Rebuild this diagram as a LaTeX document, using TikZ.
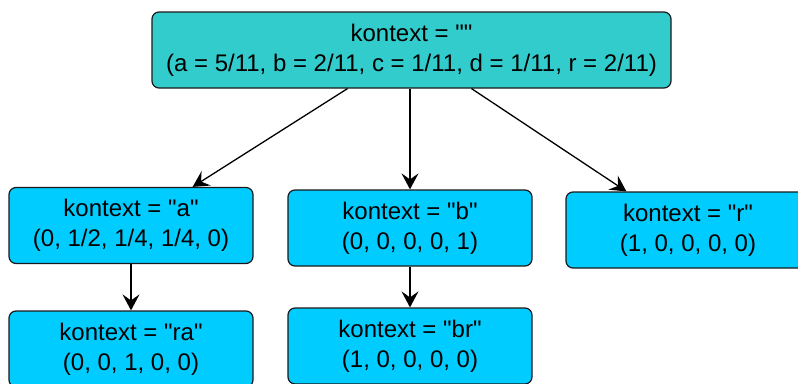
\documentclass[tikz,border=0pt]{standalone}
\usepackage{fontspec}
\setmainfont{Liberation Sans}
\usetikzlibrary{arrows.meta}
\definecolor{topfill}{HTML}{33CCCC}
\definecolor{kidfill}{HTML}{00CCFF}
\definecolor{edge}{HTML}{1A1A1A}
\newcommand{\qq}{\textquotedbl}
\tikzset{
  box/.style={draw=edge, line width=1.2pt, rounded corners=7pt, minimum width=244pt, minimum height=76pt, inner sep=0pt, align=center, font={\fontsize{24}{30}\selectfont}},
  rootbox/.style={box, fill=topfill, minimum width=519pt},
  kidbox/.style={box, fill=kidfill},
  arr/.style={draw=black, line width=1.3pt, -{Stealth[length=16pt,width=17pt,inset=6pt]}}
}
\begin{document}
\begin{tikzpicture}[x=1pt,y=-1pt]
\useasboundingbox (0,0) rectangle (798,383);
\clip (0,0) rectangle (798,383);
\node[rootbox] (root) at (411.5,50) {kontext = \qq\qq\\(a = 5/11, b = 2/11, c = 1/11, d = 1/11, r = 2/11)};
\node[kidbox] (a) at (131,225.5) {kontext = \qq a\qq\\(0, 1/2, 1/4, 1/4, 0)};
\node[kidbox] (b) at (410,228) {kontext = \qq b\qq\\(0, 0, 0, 0, 1)};
\node[kidbox] (r) at (688,230) {kontext = \qq r\qq\\(1, 0, 0, 0, 0)};
\node[kidbox] (ra) at (131,349) {kontext = \qq ra\qq\\(0, 0, 1, 0, 0)};
\node[kidbox] (br) at (410,346) {kontext = \qq br\qq\\(1, 0, 0, 0, 0)};
\draw[arr] ([xshift=-64pt]root.south) -- ([xshift=-61pt]a.north east);
\draw[arr] (root.south -| b.north) -- (b.north);
\draw[arr] ([xshift=60pt]root.south) -- ([xshift=61pt]r.north west);
\draw[arr] (a.south) -- (ra.north);
\draw[arr] (b.south) -- (br.north);
\end{tikzpicture}
\end{document}
